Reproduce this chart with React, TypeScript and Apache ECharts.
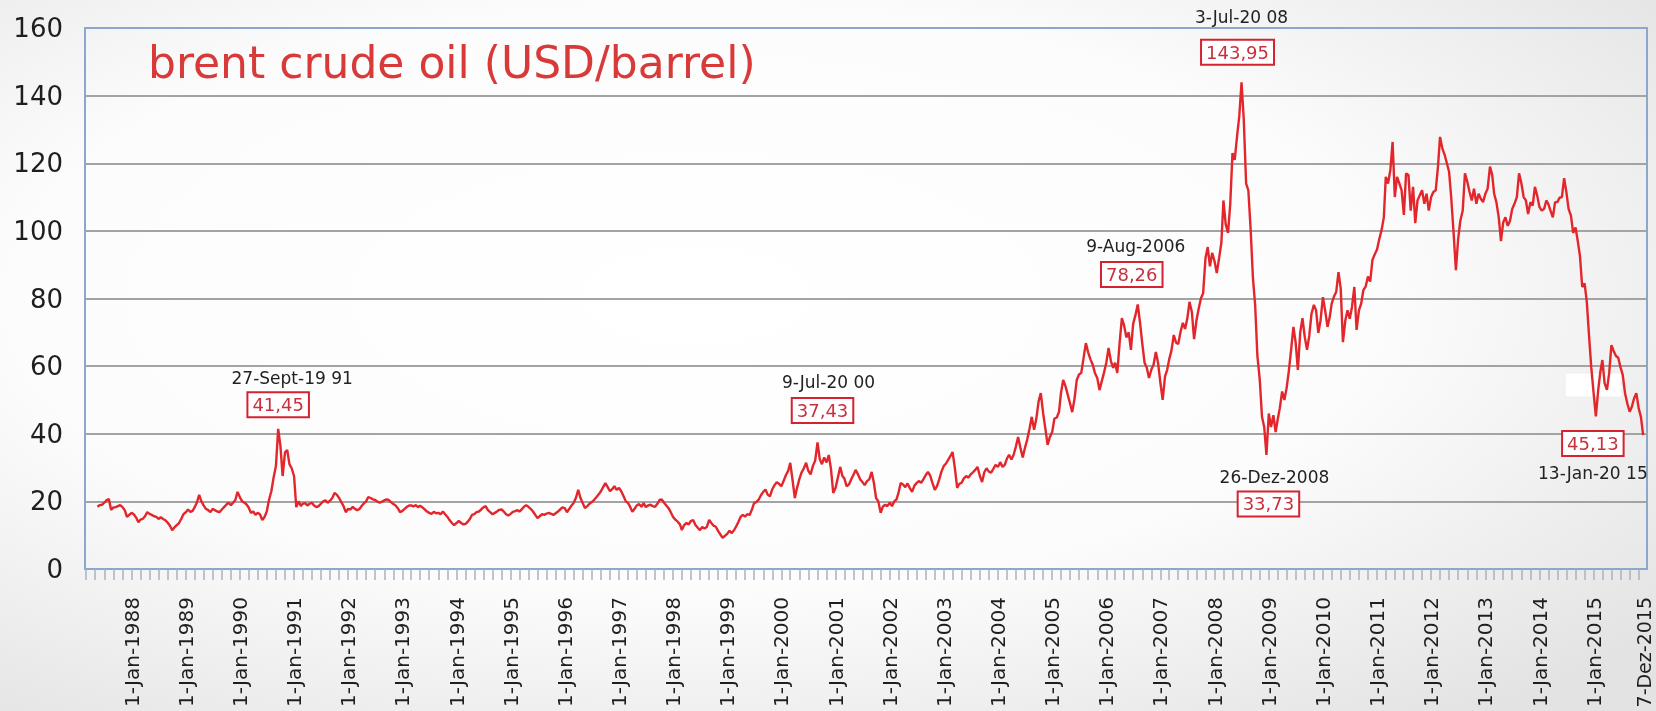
import { useEffect, useRef } from "react";
import * as echarts from "echarts";

// ---- Data: semi-monthly Brent prices (USD/barrel), values on the 1st and 16th of each month ----
// 1987 starts at 16 May (index 9 of the year grid)
const y1987 = [18.4, 18.9, 19.0, 19.6, 20.3, 20.7, 17.5, 18.2, 18.3, 18.6, 18.9, 18.3, 17.4, 15.4, 16.0];
const y1988 = [16.6, 16.2, 15.2, 13.8, 14.6, 14.8, 15.6, 16.8, 16.3, 16.0, 15.6, 15.4, 14.8, 15.3, 14.8, 14.4, 13.7, 12.8, 11.5, 12.3, 13.0, 13.6, 14.8, 16.2];
const y1989 = [16.8, 17.6, 16.9, 17.2, 18.2, 19.6, 21.9, 20.0, 18.8, 17.8, 17.4, 16.8, 17.8, 17.4, 17.0, 16.8, 17.6, 18.3, 19.0, 19.6, 18.9, 19.6, 20.4, 22.8];
const y1990 = [21.2, 20.0, 19.6, 19.0, 18.2, 16.6, 17.0, 16.0, 16.6, 16.2, 14.5, 15.4, 17.0, 20.4, 23.0, 27.0, 30.5, 41.45, 36.5, 27.5, 34.5, 35.2, 31.0, 29.8];
const y1991 = [27.5, 18.3, 20.0, 18.6, 19.3, 19.5, 18.8, 19.3, 19.6, 18.8, 18.3, 18.6, 19.3, 20.0, 20.3, 19.6, 20.2, 21.0, 22.5, 22.0, 21.0, 19.8, 18.6, 16.8];
const y1992 = [17.8, 17.6, 18.4, 17.8, 17.4, 17.7, 18.6, 19.4, 20.0, 21.3, 21.0, 20.6, 20.4, 19.9, 19.6, 19.9, 20.3, 20.6, 20.4, 19.8, 19.2, 18.8, 18.0, 16.8];
const y1993 = [17.2, 17.8, 18.4, 18.8, 18.8, 18.5, 18.9, 18.3, 18.7, 18.2, 17.6, 17.0, 16.6, 16.3, 16.9, 16.5, 16.6, 16.2, 17.0, 16.2, 15.4, 14.4, 13.6, 13.0];
const y1994 = [13.6, 14.2, 13.6, 13.2, 13.3, 13.9, 14.8, 16.0, 16.2, 16.8, 17.0, 17.6, 18.2, 18.6, 17.4, 16.8, 16.2, 16.6, 17.0, 17.5, 17.6, 17.0, 16.2, 15.8];
const y1995 = [16.3, 16.9, 17.1, 17.4, 17.0, 17.6, 18.4, 18.9, 18.4, 17.8, 17.0, 16.0, 15.1, 15.6, 16.2, 16.0, 16.4, 16.6, 16.3, 16.0, 16.5, 17.0, 17.6, 18.2];
const y1996 = [18.0, 16.8, 17.8, 18.8, 19.5, 21.0, 23.4, 21.0, 19.5, 18.0, 18.6, 19.3, 19.8, 20.4, 21.2, 22.0, 23.0, 24.2, 25.4, 24.3, 23.0, 23.6, 24.5, 23.4];
const y1997 = [24.0, 23.0, 21.5, 20.0, 19.6, 18.5, 16.9, 17.8, 18.8, 19.2, 18.4, 19.5, 18.3, 18.8, 19.0, 18.6, 18.4, 19.2, 20.4, 20.6, 19.6, 18.8, 18.0, 16.8];
const y1998 = [15.4, 14.6, 14.0, 13.2, 11.5, 13.0, 13.6, 13.2, 14.2, 14.5, 13.0, 12.2, 11.5, 12.4, 12.0, 12.4, 14.5, 13.6, 12.8, 12.5, 11.2, 10.2, 9.2, 9.8];
const y1999 = [10.4, 11.3, 10.6, 11.5, 12.5, 13.8, 15.4, 16.0, 15.5, 16.2, 16.0, 17.5, 19.5, 19.8, 20.5, 21.8, 22.8, 23.5, 22.0, 21.5, 23.6, 24.8, 25.7, 25.2];
const y2000 = [24.5, 26.0, 27.8, 29.0, 31.4, 26.5, 21.0, 24.0, 26.5, 28.5, 29.8, 31.4, 29.0, 28.0, 30.5, 32.0, 37.43, 32.5, 31.0, 33.0, 31.5, 33.7, 29.5, 22.5];
const y2001 = [24.0, 27.0, 30.2, 27.5, 26.8, 24.5, 25.0, 26.5, 27.8, 29.3, 28.0, 26.5, 25.7, 24.8, 26.0, 26.5, 28.7, 25.5, 21.0, 20.0, 16.6, 18.5, 19.0, 18.6];
const y2002 = [19.6, 18.6, 20.0, 20.6, 22.5, 25.4, 25.0, 24.2, 25.3, 24.0, 22.8, 24.6, 25.4, 26.0, 25.5, 26.5, 27.8, 28.7, 27.6, 25.5, 23.4, 24.5, 26.5, 28.8];
const y2003 = [30.5, 31.2, 32.4, 33.5, 34.6, 30.0, 24.0, 25.2, 25.5, 26.8, 27.5, 27.0, 28.0, 28.6, 29.3, 30.2, 27.5, 25.7, 28.6, 29.8, 28.8, 28.5, 29.6, 30.8];
const y2004 = [30.2, 31.6, 30.2, 30.8, 32.6, 33.8, 32.4, 33.8, 36.2, 39.0, 35.8, 33.0, 35.8, 38.2, 41.5, 45.0, 41.2, 44.5, 49.5, 52.0, 46.0, 41.5, 36.7, 39.0];
const y2005 = [40.5, 44.5, 44.8, 46.5, 52.0, 55.9, 54.0, 51.5, 49.0, 46.4, 50.5, 56.0, 57.5, 58.0, 62.5, 66.8, 64.0, 62.0, 60.5, 58.0, 56.5, 52.9, 55.5, 58.0];
const y2006 = [61.0, 65.4, 61.5, 59.5, 61.0, 58.0, 67.0, 74.2, 72.0, 68.5, 70.0, 64.8, 72.5, 75.0, 78.26, 73.0, 66.5, 61.0, 59.5, 56.5, 59.0, 60.5, 64.2, 61.0];
const y2007 = [55.0, 50.0, 57.0, 59.0, 62.0, 64.5, 69.2, 67.0, 66.5, 70.0, 72.8, 71.0, 74.0, 79.0, 76.0, 68.0, 73.5, 77.0, 80.0, 81.6, 92.0, 95.2, 89.5, 93.5];
const y2008 = [91.0, 87.5, 92.0, 96.5, 109.0, 102.0, 99.4, 108.0, 123.0, 121.0, 128.0, 134.0, 143.95, 133.0, 114.0, 112.0, 100.0, 86.0, 78.0, 63.0, 56.0, 45.0, 42.0, 33.73];
const y2009 = [46.0, 42.0, 45.5, 40.5, 44.0, 47.5, 52.5, 50.0, 53.5, 58.5, 65.0, 71.6, 67.0, 58.9, 70.0, 74.2, 68.5, 64.8, 69.0, 75.5, 78.1, 76.5, 69.8, 73.5];
const y2010 = [80.4, 76.5, 71.6, 74.5, 78.5, 80.5, 82.0, 87.8, 83.0, 67.1, 73.5, 76.5, 74.0, 77.5, 83.4, 70.7, 76.5, 78.5, 82.5, 83.5, 86.5, 85.0, 91.4, 93.0];
const y2011 = [94.5, 97.5, 100.3, 104.0, 116.0, 114.0, 118.0, 126.3, 110.0, 116.0, 114.0, 112.0, 104.7, 117.0, 116.5, 106.0, 113.0, 102.3, 109.0, 110.5, 112.0, 108.0, 111.0, 106.0];
const y2012 = [110.0, 111.5, 112.0, 119.0, 127.8, 124.5, 122.5, 120.0, 117.5, 109.5, 99.0, 88.4, 97.5, 103.0, 106.0, 117.0, 114.5, 111.5, 109.0, 112.5, 108.0, 111.0, 109.5, 108.5];
const y2013 = [111.0, 112.5, 119.0, 116.5, 111.0, 108.5, 104.0, 97.0, 102.5, 104.0, 101.5, 103.0, 106.5, 108.0, 110.0, 117.0, 114.0, 110.0, 109.0, 105.0, 108.5, 107.5, 113.0, 110.5];
const y2014 = [107.0, 106.0, 106.5, 109.0, 108.0, 106.0, 104.0, 108.5, 108.5, 109.8, 110.0, 115.6, 111.5, 106.5, 104.5, 99.4, 101.0, 97.0, 92.5, 83.4, 84.5, 79.0, 69.0, 59.7];
const y2015 = [52.0, 45.13, 53.0, 58.5, 61.8, 55.0, 53.0, 58.0, 66.2, 64.5, 63.0, 62.5, 59.7, 57.5, 52.0, 49.0, 46.5, 48.0, 50.5, 52.0, 47.5, 45.0, 39.6];

const priceYears = [1987, 1988, 1989, 1990, 1991, 1992, 1993, 1994, 1995, 1996, 1997, 1998, 1999, 2000, 2001, 2002, 2003, 2004, 2005, 2006, 2007, 2008, 2009, 2010, 2011, 2012, 2013, 2014, 2015];
const priceRows = [y1987, y1988, y1989, y1990, y1991, y1992, y1993, y1994, y1995, y1996, y1997, y1998, y1999, y2000, y2001, y2002, y2003, y2004, y2005, y2006, y2007, y2008, y2009, y2010, y2011, y2012, y2013, y2014, y2015];
const priceRowStart = [9, 0, 0, 0, 0, 0, 0, 0, 0, 0, 0, 0, 0, 0, 0, 0, 0, 0, 0, 0, 0, 0, 0, 0, 0, 0, 0, 0, 0];

// ---- Axis labels ----
const xLabelDates = [
  "1988-01-01", "1989-01-01", "1990-01-01", "1991-01-01", "1992-01-01", "1993-01-01", "1994-01-01",
  "1995-01-01", "1996-01-01", "1997-01-01", "1998-01-01", "1999-01-01", "2000-01-01", "2001-01-01",
  "2002-01-01", "2003-01-01", "2004-01-01", "2005-01-01", "2006-01-01", "2007-01-01", "2008-01-01",
  "2009-01-01", "2010-01-01", "2011-01-01", "2012-01-01", "2013-01-01", "2014-01-01", "2015-01-01", "2015-12-07",
];
const xLabelTexts = [
  "1-Jan-1988", "1-Jan-1989", "1-Jan-1990", "1-Jan-1991", "1-Jan-1992", "1-Jan-1993", "1-Jan-1994",
  "1-Jan-1995", "1-Jan-1996", "1-Jan-1997", "1-Jan-1998", "1-Jan-1999", "1-Jan-2000", "1-Jan-2001",
  "1-Jan-2002", "1-Jan-2003", "1-Jan-2004", "1-Jan-2005", "1-Jan-2006", "1-Jan-2007", "1-Jan-2008",
  "1-Jan-2009", "1-Jan-2010", "1-Jan-2011", "1-Jan-2012", "1-Jan-2013", "1-Jan-2014", "1-Jan-2015", "7-Dez-2015",
];

// ---- Annotations ----
const annDates = ["1990-09-16", "2000-09-01", "2006-08-01", "2008-07-01", "2008-12-16", "2015-01-16"];
const annValues = [41.45, 37.43, 78.26, 143.95, 33.73, 45.13];
const annDateTexts = ["27-Sept-19 91", "9-Jul-20 00", "9-Aug-2006", "3-Jul-20 08", "26-Dez-2008", "13-Jan-20 15"];
const annValueTexts = ["41,45", "37,43", "78,26", "143,95", "33,73", "45,13"];

const titleText = "brent crude oil (USD/barrel)";

// layout offsets (pixels) of annotation labels relative to their point
const annDateOffsets = [[14, -51], [11, -60], [-2, -58], [0, -65], [8, 22], [-3, 57]];
const annBoxOffsets = [[0, -24], [5, -32], [-6, -30], [-4, -30], [2, 49], [-3, 27]];

const toTs = (s: string) => {
  const [y, m, d] = s.split("-").map(Number);
  return Date.UTC(y, m - 1, d);
};
const gridTs = (year: number, idx: number) => Date.UTC(year, Math.floor(idx / 2), idx % 2 ? 16 : 1);

const FONT = "DejaVu Sans";

export default function App() {
  const ref = useRef<HTMLDivElement | null>(null);

  useEffect(() => {
    if (!ref.current) return;
    const chart = echarts.init(ref.current, null, { renderer: "svg" });

    const lineData: [number, number][] = [];
    priceRows.forEach((row, r) => {
      row.forEach((v, i) => lineData.push([gridTs(priceYears[r], priceRowStart[r] + i), v]));
    });

    const labelTs = xLabelDates.map(toTs);
    const labelMap = new Map<number, string>();
    labelTs.forEach((t, i) => labelMap.set(t, xLabelTexts[i]));
    const lastLabelTs = labelTs[labelTs.length - 1];

    const tsMin = Date.UTC(1987, 1, 21);
    const tsMax = Date.UTC(2015, 11, 27);
    const tickValues: number[] = [];
    for (let y = 1987; y <= 2015; y++) {
      for (let m = 0; m < 12; m += 2) {
        const t = Date.UTC(y, m + 2, 1);
        if (t >= tsMin && t <= tsMax) tickValues.push(t);
      }
    }

    const markData: any[] = [];
    annDates.forEach((d, i) => {
      const coord = [toTs(d), annValues[i]];
      markData.push({
        coord,
        label: {
          show: true,
          position: "inside",
          offset: annDateOffsets[i],
          formatter: annDateTexts[i],
          color: "#222222",
          fontSize: 17,
          fontFamily: FONT,
        },
      });
      markData.push({
        coord,
        label: {
          show: true,
          position: "inside",
          offset: annBoxOffsets[i],
          formatter: annValueTexts[i],
          color: "#c9303f",
          fontSize: 18,
          fontFamily: FONT,
          backgroundColor: "#ffffff",
          borderColor: "#d52230",
          borderWidth: 2,
          padding: [3, 4, 2, 4],
        },
      });
    });

    chart.setOption({
      animation: false,
      textStyle: { fontFamily: FONT },
      backgroundColor: {
        type: "radial",
        x: 0.42,
        y: 0.42,
        r: 0.75,
        colorStops: [
          { offset: 0, color: "#ffffff" },
          { offset: 0.55, color: "#fcfcfc" },
          { offset: 1, color: "#e3e3e3" },
        ],
      },
      title: {
        text: titleText,
        left: 148,
        top: 40,
        padding: 0,
        textStyle: { color: "#d83a3a", fontSize: 44, fontWeight: "normal", fontFamily: FONT },
      },
      grid: {
        left: 85,
        right: 9,
        top: 28,
        bottom: 142,
        show: true,
        borderColor: "#8da6cc",
        borderWidth: 2,
        backgroundColor: "transparent",
        containLabel: false,
        outerBoundsMode: "none",
      },
      xAxis: {
        type: "value",
        min: tsMin,
        max: tsMax,
        axisLine: { show: true, lineStyle: { color: "#8da6cc", width: 2 } },
        axisTick: { show: true, customValues: tickValues, length: 11, lineStyle: { color: "#a9b2c2", width: 1.5 } },
        axisLabel: {
          customValues: labelTs,
          formatter: (v: number) =>
            v === lastLabelTs ? "{s|" + (labelMap.get(v) ?? "") + "}" : labelMap.get(v) ?? "",
          rich: { s: { fontSize: 19, color: "#1e1e1e", fontFamily: FONT } },
          rotate: 90,
          margin: 28,
          fontSize: 20,
          color: "#1e1e1e",
          fontFamily: FONT,
          hideOverlap: false,
        },
        splitLine: { show: false },
      },
      yAxis: {
        type: "value",
        min: 0,
        max: 160,
        interval: 20,
        axisLine: { show: true, lineStyle: { color: "#8da6cc", width: 2 } },
        axisTick: { show: false },
        axisLabel: { fontSize: 26, color: "#1e1e1e", margin: 22, fontFamily: FONT },
        splitLine: {
          show: true,
          showMinLine: false,
          showMaxLine: false,
          lineStyle: { color: "#a3a3a3", width: 2 },
        },
      },
      graphic: [
        {
          type: "rect",
          z: -1,
          shape: { x: 1565, y: 373, width: 57, height: 24 },
          style: { fill: "#ffffff", stroke: "#eeeeee", lineWidth: 1 },
        },
      ],
      series: [
        {
          type: "line",
          data: lineData,
          showSymbol: false,
          symbol: "none",
          lineStyle: { color: "#e3262b", width: 2.4 },
          itemStyle: { color: "#e3262b" },
          markPoint: {
            symbol: "circle",
            symbolSize: 1,
            silent: true,
            itemStyle: { color: "rgba(0,0,0,0)" },
            label: { fontFamily: FONT },
            data: markData,
          },
        },
      ],
    });

    return () => chart.dispose();
  }, []);

  return (
    <div
      ref={ref}
      style={{ position: "fixed", left: 0, top: 0, width: 1656, height: 711 }}
    />
  );
}
